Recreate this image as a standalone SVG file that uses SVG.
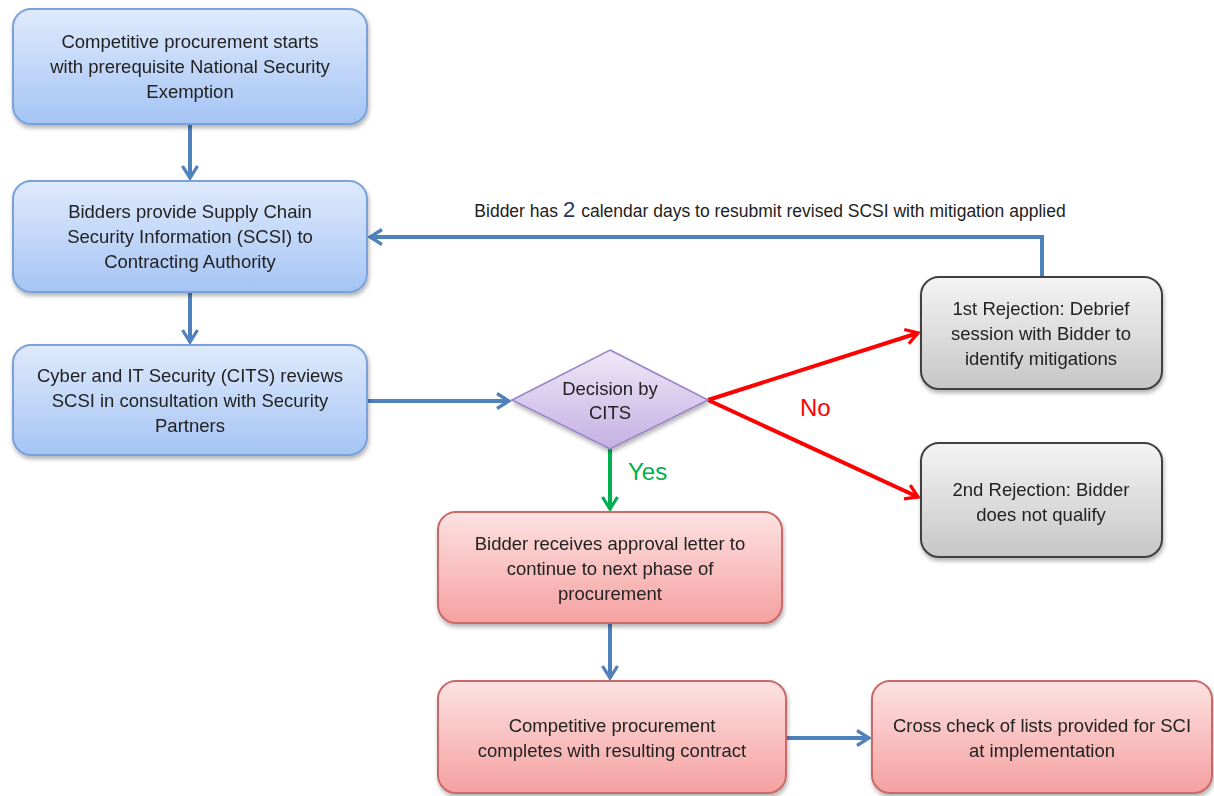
<svg xmlns="http://www.w3.org/2000/svg" width="1214" height="796" viewBox="0 0 1214 796">
<style>
  text { font-family: "Liberation Sans", Arial, sans-serif; font-size: 18.5px; fill: #222222; text-anchor: middle; }
  .blue { fill: url(#gBlue); stroke: #7aa2d8; stroke-width: 2; }
  .red { fill: url(#gRed); stroke: #c96a6a; stroke-width: 2; }
  .gray { fill: url(#gGray); stroke: #404040; stroke-width: 2; }
  .dia { fill: url(#gPurple); stroke: #9a82c4; stroke-width: 1.5; }
  .cb { stroke: #4f81bd; stroke-width: 4; fill: none; }
  .cr { stroke: #ff0000; stroke-width: 4; fill: none; }
  .cg { stroke: #00b050; stroke-width: 4; fill: none; }
  .lbl { font-size: 24px; text-anchor: start; }
</style>
<defs>
  <linearGradient id="gBlue" x1="0" y1="0" x2="0" y2="1">
    <stop offset="0" stop-color="#dfeafc"/>
    <stop offset="1" stop-color="#a5c4f4"/>
  </linearGradient>
  <linearGradient id="gRed" x1="0" y1="0" x2="0" y2="1">
    <stop offset="0" stop-color="#fde2e2"/>
    <stop offset="1" stop-color="#f5a0a0"/>
  </linearGradient>
  <linearGradient id="gGray" x1="0" y1="0" x2="0" y2="1">
    <stop offset="0" stop-color="#f4f4f4"/>
    <stop offset="1" stop-color="#c6c6c6"/>
  </linearGradient>
  <linearGradient id="gPurple" x1="0" y1="0" x2="0" y2="1">
    <stop offset="0" stop-color="#efe8f8"/>
    <stop offset="1" stop-color="#c3b0e2"/>
  </linearGradient>
  <filter id="sh" x="-10%" y="-10%" width="120%" height="130%">
    <feDropShadow dx="1" dy="3" stdDeviation="2" flood-color="#000" flood-opacity="0.3"/>
  </filter>
  <marker id="aB" viewBox="0 0 12 12" refX="10" refY="6" markerWidth="4.5" markerHeight="4.5" orient="auto" markerUnits="strokeWidth">
    <path d="M2,1 L10,6 L2,11" fill="none" stroke="#4f81bd" stroke-width="2.2"/>
  </marker>
  <marker id="aR" viewBox="0 0 12 12" refX="10" refY="6" markerWidth="4.5" markerHeight="4.5" orient="auto" markerUnits="strokeWidth">
    <path d="M2,1 L10,6 L2,11" fill="none" stroke="#ff0000" stroke-width="2.2"/>
  </marker>
  <marker id="aG" viewBox="0 0 12 12" refX="10" refY="6" markerWidth="4.5" markerHeight="4.5" orient="auto" markerUnits="strokeWidth">
    <path d="M2,1 L10,6 L2,11" fill="none" stroke="#00b050" stroke-width="2.2"/>
  </marker>
</defs>
<rect width="1214" height="796" fill="#ffffff"/>

<g id="connectors">
  <line class="cb" x1="190" y1="125" x2="190" y2="178" marker-end="url(#aB)"/>
  <line class="cb" x1="190" y1="293" x2="190" y2="342" marker-end="url(#aB)"/>
  <line class="cb" x1="368" y1="401" x2="509" y2="401" marker-end="url(#aB)"/>
  <line class="cg" x1="610" y1="449" x2="610" y2="509" marker-end="url(#aG)"/>
  <line class="cr" x1="708" y1="400" x2="918" y2="333" marker-end="url(#aR)"/>
  <line class="cr" x1="708" y1="400" x2="918" y2="497" marker-end="url(#aR)"/>
  <polyline class="cb" points="1042,276 1042,237 370,237" marker-end="url(#aB)"/>
  <line class="cb" x1="610" y1="624" x2="610" y2="678" marker-end="url(#aB)"/>
  <line class="cb" x1="787" y1="738" x2="869" y2="738" marker-end="url(#aB)"/>
  <text class="lbl" x="628" y="480" style="fill:#00b050">Yes</text>
  <text class="lbl" x="800" y="416" style="fill:#ff0000">No</text>
  <text x="770" y="217" style="font-size:17.5px">Bidder has <tspan style="font-size:22px;fill:#1f3864"> 2 </tspan> calendar days to resubmit revised SCSI with mitigation applied</text>
</g>

<g id="n1" filter="url(#sh)">
  <rect class="blue" x="13" y="9" width="354" height="115" rx="18"/>
  <text x="190" y="48">Competitive procurement starts</text>
  <text x="190" y="73">with prerequisite National Security</text>
  <text x="190" y="98">Exemption</text>
</g>
<g id="n2" filter="url(#sh)">
  <rect class="blue" x="13" y="181" width="354" height="111" rx="18"/>
  <text x="190" y="218">Bidders provide Supply Chain</text>
  <text x="190" y="243">Security Information (SCSI) to</text>
  <text x="190" y="268">Contracting Authority</text>
</g>
<g id="n3" filter="url(#sh)">
  <rect class="blue" x="13" y="345" width="354" height="110" rx="18"/>
  <text x="190" y="382">Cyber and IT Security (CITS) reviews</text>
  <text x="190" y="407">SCSI in consultation with Security</text>
  <text x="190" y="432">Partners</text>
</g>
<g id="n4" filter="url(#sh)">
  <polygon class="dia" points="610,350 708,400 610,449 512,400"/>
  <text x="610" y="395">Decision by</text>
  <text x="610" y="419">CITS</text>
</g>
<g id="n5" filter="url(#sh)">
  <rect class="gray" x="921" y="277" width="241" height="112" rx="18"/>
  <text x="1041" y="315">1st Rejection: Debrief</text>
  <text x="1041" y="340">session with Bidder to</text>
  <text x="1041" y="365">identify mitigations</text>
</g>
<g id="n6" filter="url(#sh)">
  <rect class="gray" x="921" y="443" width="241" height="114" rx="18"/>
  <text x="1041" y="496">2nd Rejection: Bidder</text>
  <text x="1041" y="521">does not qualify</text>
</g>
<g id="n7" filter="url(#sh)">
  <rect class="red" x="438" y="512" width="344" height="111" rx="18"/>
  <text x="610" y="550">Bidder receives approval letter to</text>
  <text x="610" y="575">continue to next phase of</text>
  <text x="610" y="600">procurement</text>
</g>
<g id="n8" filter="url(#sh)">
  <rect class="red" x="438" y="681" width="348" height="112" rx="18"/>
  <text x="612" y="732">Competitive procurement</text>
  <text x="612" y="757">completes with resulting contract</text>
</g>
<g id="n9" filter="url(#sh)">
  <rect class="red" x="872" y="681" width="340" height="112" rx="18"/>
  <text x="1042" y="732">Cross check of lists provided for SCI</text>
  <text x="1042" y="757">at implementation</text>
</g>
</svg>
